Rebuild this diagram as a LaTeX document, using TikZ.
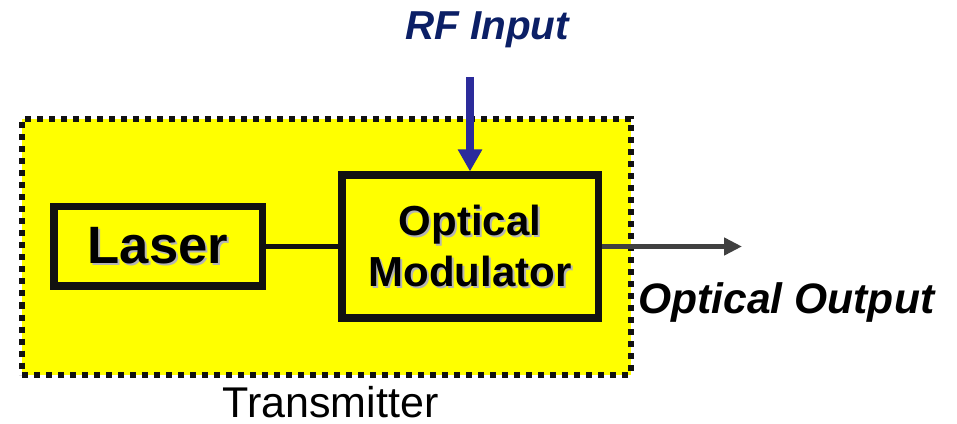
\documentclass[tikz,border=0pt]{standalone}
\usepackage{fontspec}
\setmainfont{Liberation Sans}
\usetikzlibrary{arrows.meta,positioning}
\definecolor{ink}{HTML}{111111}
\definecolor{txfill}{HTML}{FFFF00}
\definecolor{navytext}{HTML}{0B1F66}
\definecolor{rfline}{HTML}{2B2B9B}
\definecolor{outline}{HTML}{404040}
\definecolor{shadow}{HTML}{B4B4B4}
\newcommand{\shd}[1]{\makebox[0pt][l]{\kern1pt\raisebox{-1pt}{\color{shadow}#1}}#1}

\begin{document}
\begin{tikzpicture}[
  x=0.5pt, y=0.5pt,
  frame/.style={
    draw=ink, fill=txfill, line width=3pt, dash pattern=on 3pt off 3pt,
    minimum width=304.25pt, minimum height=127.75pt, inner sep=0pt
  },
  box/.style={
    draw=ink, line width=3.75pt, fill=txfill,
    align=center, inner sep=0pt, text=black, font=\bfseries
  },
  link/.style={line width=2.5pt, draw=ink},
  rfarrow/.style={-{Triangle[length=11pt,width=11.5pt]}, line width=4pt, draw=rfline},
  outarrow/.style={-{Triangle[length=9pt,width=8.5pt]}, line width=2.3pt, draw=outline},
  lab/.style={font=\fontsize{21.3}{25}\selectfont\bfseries\itshape, inner sep=0pt}
]
\useasboundingbox (0,0) rectangle (957,423);

%% ---------- transmitter ----------
\node[frame] (tx) at (326.25,176.25) {};
\node[font=\fontsize{21.5}{25}\selectfont, inner sep=0pt, anchor=base] (txlab) at (330.5,6) {Transmitter};

%% ---------- blocks ----------
\node[box, minimum width=104.25pt, minimum height=39.75pt,
      font=\fontsize{26.3}{30}\selectfont\bfseries] (laser) at (158,176.5)
  {\shd{Laser}};
\node[box, minimum width=128.25pt, minimum height=71.25pt,
      font=\fontsize{21}{25.5}\selectfont\bfseries] (mod) at (470,176.5)
  {\shd{Optical}\\\shd{Modulator}};

%% ---------- inputs / outputs ----------
\coordinate (rfin) at (470,346);
\coordinate (optout) at (742,176.5);
\node[lab, text=navytext, anchor=base, font=\fontsize{20.2}{24}\selectfont\bfseries\itshape] (rflab) at (487,383) {RF Input};
\node[lab, text=black, anchor=base west] (outlab) at (638,110) {Optical Output};

%% ---------- connectors ----------
\draw[link] (laser.east) -- (mod.west);
\draw[rfarrow] (rfin) -- (mod.north);
\draw[outarrow] (mod.east) -- (optout);

\end{tikzpicture}
\end{document}
